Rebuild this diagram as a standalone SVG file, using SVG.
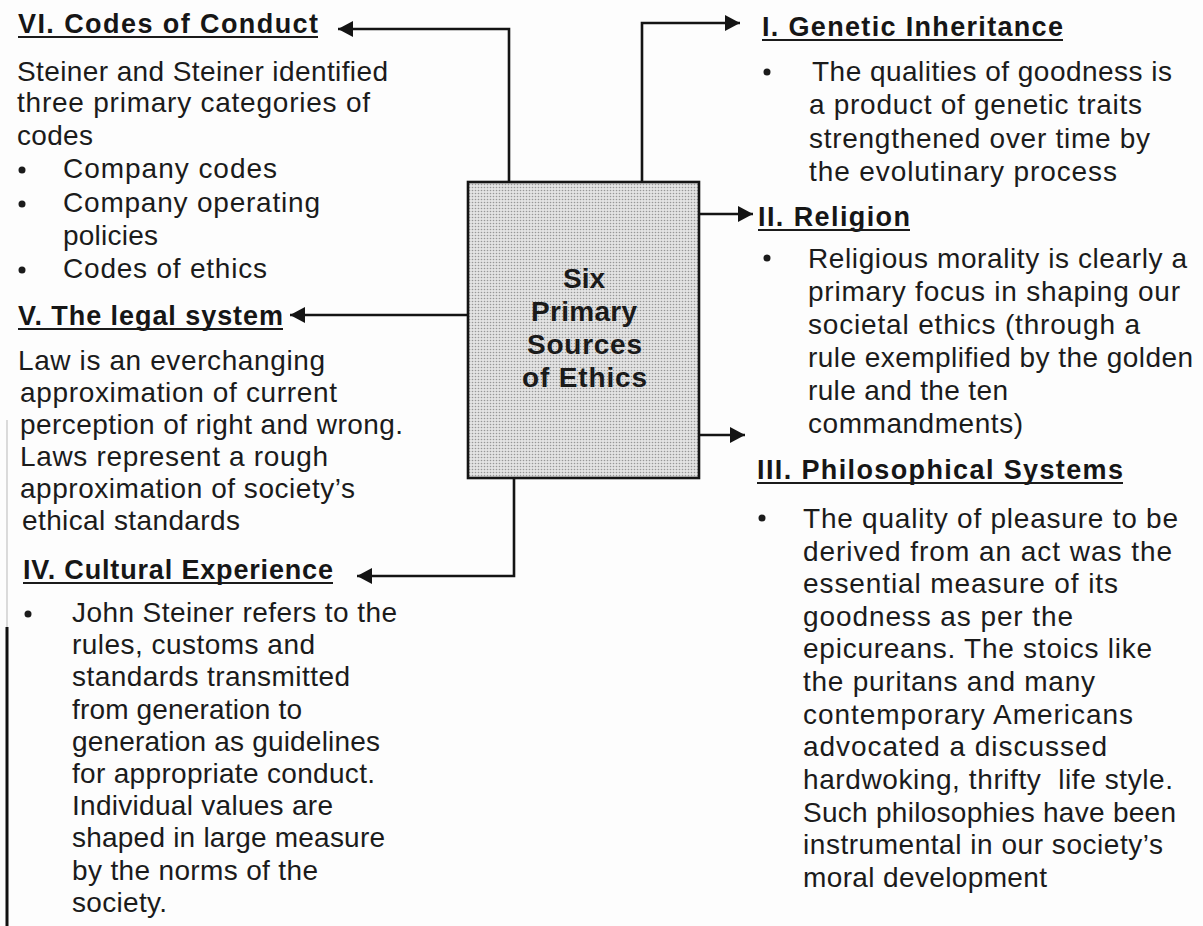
<svg xmlns="http://www.w3.org/2000/svg" width="1203" height="926" viewBox="0 0 1203 926">
  <defs>
    <style>
      .t { font-family: "Liberation Sans", Arial, sans-serif; font-size: 28px; fill: #1b1b1b; }
      .h { font-family: "Liberation Sans", Arial, sans-serif; font-size: 27px; font-weight: bold; fill: #161616; }
      .c { font-family: "Liberation Sans", Arial, sans-serif; font-size: 28px; font-weight: bold; fill: #1a1a1a; }
      .pre { white-space: pre; }
      .ul { stroke: #1b1b1b; stroke-width: 1.8; }
      .dot { fill: #1b1b1b; }
      .conn { fill: none; stroke: #141414; stroke-width: 2.6; marker-end: url(#tip); }
    </style>
    <marker id="tip" markerUnits="userSpaceOnUse" markerWidth="16" markerHeight="18" refX="15" refY="9" orient="auto">
      <path d="M0,1 L15,9 L0,17 Z" fill="#141414"/>
    </marker>
    <!-- halftone screen for the central box -->
    <pattern id="screen" width="3" height="3" patternUnits="userSpaceOnUse">
      <rect width="3" height="3" fill="#e3e3e3"/>
      <circle cx="1.5" cy="1.5" r="0.8" fill="#979797"/>
    </pattern>
  </defs>

  <rect width="1203" height="926" fill="#fdfdfd"/>

  <!-- page edge on the left -->
  <line x1="7" y1="420" x2="7" y2="627" stroke="#c4c4c4" stroke-width="1.2"/>
  <line x1="7" y1="627" x2="7" y2="926" stroke="#111" stroke-width="3"/>

  <!-- connectors -->
  <g id="connectors">
    <path class="conn" d="M509 182 V29 H338"/>
    <path class="conn" d="M468 315 H290"/>
    <path class="conn" d="M514 478 V576 H357"/>
    <path class="conn" d="M642 182 V23 H740"/>
    <path class="conn" d="M699 214 H753"/>
    <path class="conn" d="M699 435 H745"/>
  </g>

  <!-- central node -->
  <g id="center">
    <rect x="468" y="182" width="231" height="296" fill="url(#screen)" stroke="#141414" stroke-width="2.6"/>
    <text class="c" x="563" y="288" textLength="42" lengthAdjust="spacing">Six</text>
    <text class="c" x="531" y="321" textLength="106" lengthAdjust="spacing">Primary</text>
    <text class="c" x="527" y="354" textLength="115" lengthAdjust="spacing">Sources</text>
    <text class="c" x="522" y="387" textLength="125" lengthAdjust="spacing">of Ethics</text>
  </g>

  <!-- VI. Codes of Conduct -->
  <g id="codes-of-conduct">
    <text class="h" x="18" y="33" textLength="300" lengthAdjust="spacing">VI. Codes of Conduct</text>
    <line class="ul" x1="18" y1="37" x2="318" y2="37"/>
    <text class="t" x="17" y="81" textLength="371" lengthAdjust="spacing">Steiner and Steiner identified</text>
    <text class="t" x="17" y="112" textLength="353" lengthAdjust="spacing">three primary categories of</text>
    <text class="t" x="17" y="145" textLength="76" lengthAdjust="spacing">codes</text>
    <circle class="dot" cx="22" cy="170" r="3.5"/>
    <text class="t" x="63" y="178" textLength="214" lengthAdjust="spacing">Company codes</text>
    <circle class="dot" cx="22" cy="204" r="3.5"/>
    <text class="t" x="63" y="212" textLength="257" lengthAdjust="spacing">Company operating</text>
    <text class="t" x="63" y="245" textLength="95" lengthAdjust="spacing">policies</text>
    <circle class="dot" cx="22" cy="270" r="3.5"/>
    <text class="t" x="63" y="278" textLength="204" lengthAdjust="spacing">Codes of ethics</text>
  </g>

  <!-- V. The legal system -->
  <g id="legal-system">
    <text class="h" x="18" y="325" textLength="265" lengthAdjust="spacing">V. The legal system</text>
    <line class="ul" x1="18" y1="329" x2="283" y2="329"/>
    <text class="t" x="18" y="370" textLength="307" lengthAdjust="spacing">Law is an everchanging</text>
    <text class="t" x="20" y="402" textLength="317" lengthAdjust="spacing">approximation of current</text>
    <text class="t" x="20" y="434" textLength="383" lengthAdjust="spacing">perception of right and wrong.</text>
    <text class="t" x="20" y="466" textLength="308" lengthAdjust="spacing">Laws represent a rough</text>
    <text class="t" x="20" y="498" textLength="335" lengthAdjust="spacing">approximation of society’s</text>
    <text class="t" x="22" y="530" textLength="218" lengthAdjust="spacing">ethical standards</text>
  </g>

  <!-- IV. Cultural Experience -->
  <g id="cultural-experience">
    <text class="h" x="23" y="579" textLength="310" lengthAdjust="spacing">IV. Cultural Experience</text>
    <line class="ul" x1="23" y1="583" x2="333" y2="583"/>
    <circle class="dot" cx="28" cy="614" r="3.5"/>
    <text class="t" x="72" y="622" textLength="325" lengthAdjust="spacing">John Steiner refers to the</text>
    <text class="t" x="72" y="654" textLength="243" lengthAdjust="spacing">rules, customs and</text>
    <text class="t" x="72" y="686" textLength="278" lengthAdjust="spacing">standards transmitted</text>
    <text class="t" x="72" y="719" textLength="230" lengthAdjust="spacing">from generation to</text>
    <text class="t" x="72" y="751" textLength="308" lengthAdjust="spacing">generation as guidelines</text>
    <text class="t" x="72" y="783" textLength="303" lengthAdjust="spacing">for appropriate conduct.</text>
    <text class="t" x="72" y="815" textLength="261" lengthAdjust="spacing">Individual values are</text>
    <text class="t" x="72" y="847" textLength="313" lengthAdjust="spacing">shaped in large measure</text>
    <text class="t" x="72" y="880" textLength="246" lengthAdjust="spacing">by the norms of the</text>
    <text class="t" x="72" y="912" textLength="95" lengthAdjust="spacing">society.</text>
  </g>

  <!-- I. Genetic Inheritance -->
  <g id="genetic-inheritance">
    <text class="h" x="762" y="36" textLength="301" lengthAdjust="spacing">I. Genetic Inheritance</text>
    <line class="ul" x1="762" y1="40" x2="1063" y2="40"/>
    <circle class="dot" cx="767" cy="72" r="3.5"/>
    <text class="t" x="812" y="81" textLength="360" lengthAdjust="spacing">The qualities of goodness is</text>
    <text class="t" x="809" y="114" textLength="333" lengthAdjust="spacing">a product of genetic traits</text>
    <text class="t" x="809" y="148" textLength="341" lengthAdjust="spacing">strengthened over time by</text>
    <text class="t" x="809" y="181" textLength="308" lengthAdjust="spacing">the evolutinary process</text>
  </g>

  <!-- II. Religion -->
  <g id="religion">
    <text class="h" x="758" y="226" textLength="152" lengthAdjust="spacing">II. Religion</text>
    <line class="ul" x1="758" y1="230" x2="910" y2="230"/>
    <circle class="dot" cx="767" cy="258" r="3.5"/>
    <text class="t" x="808" y="268" textLength="379" lengthAdjust="spacing">Religious morality is clearly a</text>
    <text class="t" x="808" y="301" textLength="372" lengthAdjust="spacing">primary focus in shaping our</text>
    <text class="t" x="808" y="334" textLength="332" lengthAdjust="spacing">societal ethics (through a</text>
    <text class="t" x="808" y="367" textLength="385" lengthAdjust="spacing">rule exemplified by the golden</text>
    <text class="t" x="808" y="400" textLength="200" lengthAdjust="spacing">rule and the ten</text>
    <text class="t" x="808" y="433" textLength="215" lengthAdjust="spacing">commandments)</text>
  </g>

  <!-- III. Philosophical Systems -->
  <g id="philosophical-systems">
    <text class="h" x="757" y="479" textLength="366" lengthAdjust="spacing">III. Philosophical Systems</text>
    <line class="ul" x1="757" y1="483" x2="1123" y2="483"/>
    <circle class="dot" cx="762" cy="518" r="3.5"/>
    <text class="t" x="803" y="528" textLength="375" lengthAdjust="spacing">The quality of pleasure to be</text>
    <text class="t" x="803" y="561" textLength="369" lengthAdjust="spacing">derived from an act was the</text>
    <text class="t" x="803" y="593" textLength="315" lengthAdjust="spacing">essential measure of its</text>
    <text class="t" x="803" y="626" textLength="270" lengthAdjust="spacing">goodness as per the</text>
    <text class="t" x="803" y="658" textLength="349" lengthAdjust="spacing">epicureans. The stoics like</text>
    <text class="t" x="803" y="691" textLength="292" lengthAdjust="spacing">the puritans and many</text>
    <text class="t" x="803" y="724" textLength="330" lengthAdjust="spacing">contemporary Americans</text>
    <text class="t" x="803" y="756" textLength="304" lengthAdjust="spacing">advocated a discussed</text>
    <text class="t pre" x="803" y="789" textLength="370" lengthAdjust="spacing">hardwoking, thrifty  life style.</text>
    <text class="t" x="803" y="822" textLength="373" lengthAdjust="spacing">Such philosophies have been</text>
    <text class="t" x="803" y="854" textLength="360" lengthAdjust="spacing">instrumental in our society’s</text>
    <text class="t" x="803" y="887" textLength="244" lengthAdjust="spacing">moral development</text>
  </g>
</svg>
